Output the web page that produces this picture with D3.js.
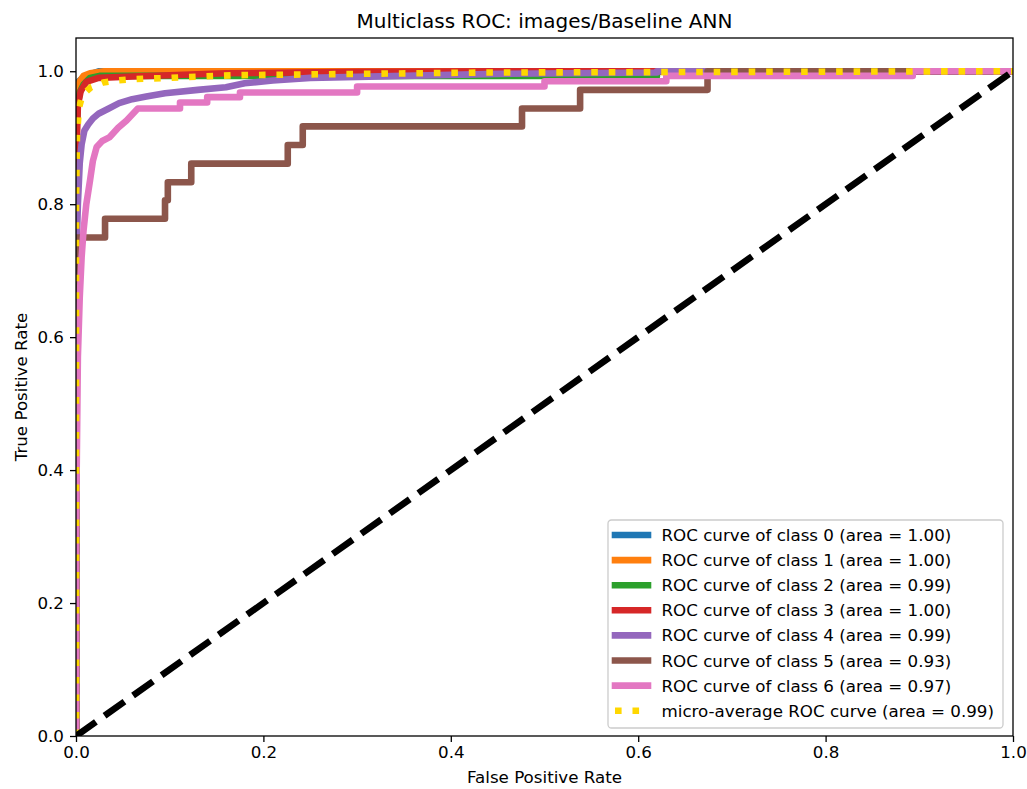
<!DOCTYPE html>
<html>
<head>
<meta charset="utf-8">
<script src="https://cdn.jsdelivr.net/npm/d3@7"></script>
<style>
  body { margin: 0; background: #fff; }
  text { font-family: "DejaVu Sans", sans-serif; fill: #000; }
</style>
</head>
<body>
<svg id="chart" width="1027" height="789"></svg>
<script>
// ROC points, [fpr, tpr]
var roc0 = [[0, 0], [0, 0.97], [0.003, 0.985], [0.01, 0.993], [0.025, 1], [1, 1]];
var roc1 = [[0, 0], [0, 0.93], [0.002, 0.975], [0.004, 0.985], [0.008, 0.993], [0.015, 0.997], [0.03, 1], [1, 1]];
var roc2 = [[0, 0], [0, 0.9], [0.002, 0.95], [0.004, 0.968], [0.008, 0.98], [0.015, 0.99], [0.025, 0.993],
            [0.62, 0.993], [0.62, 1], [1, 1]];
var roc3 = [[0, 0], [0, 0.85], [0.001, 0.9], [0.002, 0.949], [0.005, 0.97], [0.011, 0.984], [0.024, 0.99],
            [0.06, 0.992], [0.1, 0.994], [0.16, 0.997], [0.3, 0.999], [0.45, 1], [1, 1]];
var roc4 = [[0, 0], [0, 0.7], [0.002, 0.8], [0.004, 0.862], [0.006, 0.89], [0.009, 0.911], [0.013, 0.92],
            [0.018, 0.929], [0.024, 0.936], [0.035, 0.944], [0.046, 0.952], [0.06, 0.958], [0.075, 0.962],
            [0.095, 0.967], [0.13, 0.972], [0.16, 0.976], [0.18, 0.982], [0.21, 0.986], [0.25, 0.99],
            [0.35, 0.993], [0.45, 0.996], [0.62, 0.998], [0.62, 1], [1, 1]];
var roc5 = [[0, 0], [0, 0.75], [0.031, 0.75], [0.031, 0.778], [0.095, 0.778], [0.095, 0.806], [0.098, 0.806],
            [0.098, 0.833], [0.123, 0.833], [0.123, 0.861], [0.226, 0.861], [0.226, 0.889], [0.242, 0.889],
            [0.242, 0.917], [0.476, 0.917], [0.476, 0.944], [0.538, 0.944], [0.538, 0.972], [0.674, 0.972],
            [0.674, 1], [1, 1]];
var roc6 = [[0, 0], [0, 0.3], [0.002, 0.57], [0.004, 0.66], [0.006, 0.72], [0.008, 0.76], [0.011, 0.8],
            [0.015, 0.836], [0.018, 0.865], [0.022, 0.886], [0.028, 0.895], [0.036, 0.901], [0.045, 0.915],
            [0.054, 0.926], [0.06, 0.935], [0.066, 0.944], [0.111, 0.944], [0.111, 0.953], [0.14, 0.953],
            [0.14, 0.961], [0.175, 0.961], [0.175, 0.968], [0.3, 0.968], [0.3, 0.977], [0.5, 0.977],
            [0.5, 0.985], [0.63, 0.985], [0.63, 0.993], [0.893, 0.993], [0.893, 1], [1, 1]];
var rocMicro = [[0, 0], [0, 0.8], [0.001, 0.9], [0.003, 0.944], [0.006, 0.96], [0.009, 0.967], [0.016, 0.976],
                [0.029, 0.983], [0.043, 0.986], [0.061, 0.988], [0.078, 0.989], [0.1, 0.99], [0.114, 0.991],
                [0.168, 0.994], [0.3, 0.996], [0.43, 0.998], [0.7, 0.999], [1, 1]];
var chanceLine = [[0, 0], [1, 1]];

var classAreas = ['1.00', '1.00', '0.99', '1.00', '0.99', '0.93', '0.97'];
var microArea = '0.99';
var xTicks = [0, 0.2, 0.4, 0.6, 0.8, 1.0];
var yTicks = [0, 0.2, 0.4, 0.6, 0.8, 1.0];

var classCurves = [roc0, roc1, roc2, roc3, roc4, roc5, roc6];
var classColors = ['#1f77b4', '#ff7f0e', '#2ca02c', '#d62728', '#9467bd', '#8c564b', '#e377c2'];

var LW = 6.6;
var margin = {left: 76, right: 14, top: 38, bottom: 53};
var W = 1027, H = 789;

var svg = d3.select('#chart');
var x = d3.scaleLinear().domain([0, 1]).range([margin.left, W - margin.right]);
var y = d3.scaleLinear().domain([0, 1.05]).range([H - margin.bottom, margin.top]);

svg.append('defs').append('clipPath').attr('id', 'plotclip')
  .append('rect')
    .attr('x', x(0)).attr('y', y(1.05))
    .attr('width', x(1) - x(0)).attr('height', y(0) - y(1.05));

var line = d3.line()
    .x(function(d) { return x(d[0]); })
    .y(function(d) { return y(d[1]); });

var plot = svg.append('g').attr('clip-path', 'url(#plotclip)');

classCurves.forEach(function(pts, i) {
  plot.append('path')
      .attr('d', line(pts))
      .attr('fill', 'none')
      .attr('stroke', classColors[i])
      .attr('stroke-width', LW)
      .attr('stroke-linejoin', 'round')
      .attr('stroke-linecap', 'square');
});

plot.append('path')
    .attr('d', line(rocMicro))
    .attr('fill', 'none')
    .attr('stroke', '#ffd700')
    .attr('stroke-width', LW)
    .attr('stroke-linejoin', 'round')
    .attr('stroke-dasharray', (LW * 1) + ',' + (LW * 1.65));

plot.append('path')
    .attr('d', line(chanceLine))
    .attr('fill', 'none')
    .attr('stroke', '#000')
    .attr('stroke-width', LW)
    .attr('stroke-dasharray', (LW * 3.7) + ',' + (LW * 1.6));

// axes frame
svg.append('rect')
    .attr('x', x(0)).attr('y', y(1.05))
    .attr('width', x(1) - x(0)).attr('height', y(0) - y(1.05))
    .attr('fill', 'none').attr('stroke', '#000').attr('stroke-width', 1.3);

var fmt = d3.format('.1f');
var xAxis = svg.append('g')
    .attr('transform', 'translate(0,' + y(0) + ')')
    .call(d3.axisBottom(x).tickValues(xTicks).tickFormat(fmt).tickSize(6).tickPadding(4));
var yAxis = svg.append('g')
    .attr('transform', 'translate(' + x(0) + ',0)')
    .call(d3.axisLeft(y).tickValues(yTicks).tickFormat(fmt).tickSize(6).tickPadding(6));
[xAxis, yAxis].forEach(function(ax) {
  ax.select('.domain').remove();
  ax.selectAll('line').attr('stroke', '#000').attr('stroke-width', 1.3);
  ax.selectAll('text').attr('font-size', 16.7).attr('font-family', '"DejaVu Sans", sans-serif').attr('fill', '#000');
});

svg.append('text')
    .attr('x', (x(0) + x(1)) / 2).attr('y', 28)
    .attr('text-anchor', 'middle').attr('font-size', 20)
    .text('Multiclass ROC: images/Baseline ANN');

svg.append('text')
    .attr('x', (x(0) + x(1)) / 2).attr('y', 783)
    .attr('text-anchor', 'middle').attr('font-size', 16.7)
    .text('False Positive Rate');

svg.append('text')
    .attr('transform', 'translate(27,' + ((y(0) + y(1.05)) / 2) + ') rotate(-90)')
    .attr('text-anchor', 'middle').attr('font-size', 16.7)
    .text('True Positive Rate');

// legend
var legend = svg.append('g');
legend.append('rect')
    .attr('x', 608).attr('y', 520).attr('width', 395).attr('height', 208)
    .attr('rx', 3.5)
    .attr('fill', '#fff').attr('fill-opacity', 0.8)
    .attr('stroke', '#cccccc').attr('stroke-width', 1.3);

var entries = classAreas.map(function(a, i) {
  return {label: 'ROC curve of class ' + i + ' (area = ' + a + ')', color: classColors[i], dotted: false};
});
entries.push({label: 'micro-average ROC curve (area = ' + microArea + ')', color: '#ffd700', dotted: true});

entries.forEach(function(e, i) {
  var cy = 535 + i * 25.1;
  var hl = legend.append('line')
      .attr('x1', 615).attr('x2', 648).attr('y1', cy).attr('y2', cy)
      .attr('stroke', e.color).attr('stroke-width', LW);
  if (e.dotted) {
    hl.attr('stroke-dasharray', (LW * 1) + ',' + (LW * 1.65));
  } else {
    hl.attr('stroke-linecap', 'square');
  }
  legend.append('text')
      .attr('x', 661.5).attr('y', cy + 6)
      .attr('font-size', 16.7)
      .text(e.label);
});
</script>
</body>
</html>
